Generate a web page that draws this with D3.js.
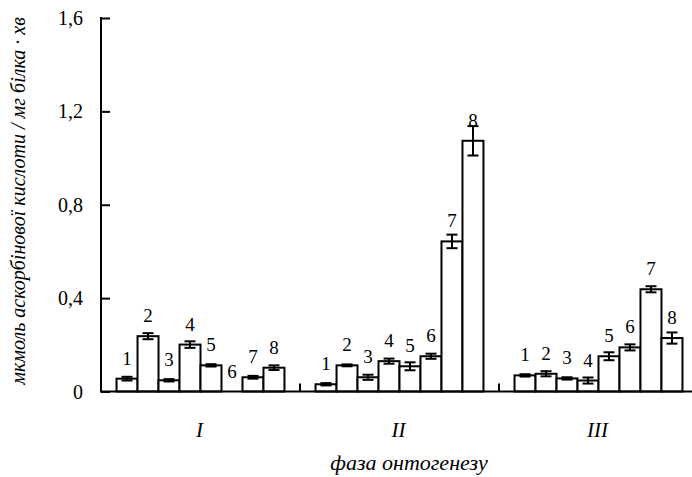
<!DOCTYPE html>
<html>
<head>
<meta charset="utf-8">
<script src="https://cdn.jsdelivr.net/npm/d3@7"></script>
<style>
  html, body { margin: 0; padding: 0; background: #fff; }
  svg { display: block; }
</style>
</head>
<body>
<svg id="chart" width="692" height="477" font-family="Liberation Serif"></svg>
<script>
const groups = ["I", "II", "III"];
const barLabels = ["1", "2", "3", "4", "5", "6", "7", "8"];
const valuesI   = [0.055, 0.237, 0.048, 0.201, 0.112, 0.000, 0.061, 0.102];
const errI      = [0.008, 0.013, 0.005, 0.014, 0.005, 0.000, 0.006, 0.010];
const valuesII  = [0.031, 0.112, 0.061, 0.130, 0.108, 0.151, 0.643, 1.074];
const errII     = [0.005, 0.004, 0.011, 0.011, 0.017, 0.011, 0.029, 0.063];
const valuesIII = [0.069, 0.076, 0.056, 0.047, 0.151, 0.189, 0.438, 0.229];
const errIII    = [0.005, 0.011, 0.005, 0.013, 0.017, 0.013, 0.013, 0.024];
const yTicks = [0, 0.4, 0.8, 1.2, 1.6];
const yTickLabels = ["0", "0,4", "0,8", "1,2", "1,6"];
const yTitle = "мкмоль аскорбінової кислоти / мг білка · хв";
const xTitle = "фаза онтогенезу";

(function () {
const seriesValues = [valuesI, valuesII, valuesIII];
const seriesErrors = [errI, errII, errIII];
const data = [];
groups.forEach((g, gi) => {
  barLabels.forEach((b, bi) => {
    data.push({ group: g, bar: b, value: seriesValues[gi][bi], err: seriesErrors[gi][bi] });
  });
});

const svg = d3.select("#chart");
const mLeft = 101, mRight = 698, mTop = 18, mBottom = 391.5;

const x0 = d3.scaleBand().domain(groups).range([mLeft, mRight]).paddingInner(0).paddingOuter(0);
const x1 = d3.scaleBand().domain(barLabels).range([0, x0.bandwidth()]).paddingOuter(0.74).paddingInner(0);
const y = d3.scaleLinear().domain([0, 1.6]).range([mBottom, mTop]);

const g = svg.append("g");
const bars = g.selectAll("g.bar").data(data).enter().append("g").attr("class", "bar")
  .attr("transform", d => `translate(${x0(d.group) + x1(d.bar)},0)`);

bars.filter(d => d.value > 0).append("rect")
  .attr("x", 0)
  .attr("y", d => y(d.value))
  .attr("width", x1.bandwidth())
  .attr("height", d => y(0) - y(d.value))
  .attr("fill", "#fff")
  .attr("stroke", "#000")
  .attr("stroke-width", 2);

const capW = 11;
const eb = bars.filter(d => d.err > 0);
const cx = x1.bandwidth() / 2;
eb.append("line")
  .attr("x1", cx).attr("x2", cx)
  .attr("y1", d => y(d.value - d.err)).attr("y2", d => y(d.value + d.err))
  .attr("stroke", "#000").attr("stroke-width", 2);
eb.append("line")
  .attr("x1", cx - capW / 2).attr("x2", cx + capW / 2)
  .attr("y1", d => y(d.value + d.err)).attr("y2", d => y(d.value + d.err))
  .attr("stroke", "#000").attr("stroke-width", 2);
eb.append("line")
  .attr("x1", cx - capW / 2).attr("x2", cx + capW / 2)
  .attr("y1", d => y(d.value - d.err)).attr("y2", d => y(d.value - d.err))
  .attr("stroke", "#000").attr("stroke-width", 2);

bars.append("text")
  .attr("x", cx)
  .attr("y", d => y(d.value) - 14)
  .attr("text-anchor", "middle")
  .attr("font-size", 19)
  .text(d => d.bar);

const yAxis = d3.axisRight(y).tickValues(yTicks).tickSize(9).tickFormat("");
const ya = svg.append("g").attr("transform", `translate(${mLeft},0)`).call(yAxis);
ya.select(".domain").remove();
ya.selectAll(".tick line").attr("stroke", "#000").attr("stroke-width", 2);
svg.append("line").attr("x1", mLeft).attr("x2", mLeft).attr("y1", y(1.6) - 1).attr("y2", mBottom + 1)
  .attr("stroke", "#000").attr("stroke-width", 2);
svg.selectAll("text.ytl").data(yTicks).enter().append("text").attr("class", "ytl")
  .attr("x", 83).attr("y", d => y(d) + 7)
  .attr("text-anchor", "end").attr("font-size", 20)
  .text((d, i) => yTickLabels[i]);

svg.append("line").attr("x1", mLeft).attr("x2", 692).attr("y1", mBottom).attr("y2", mBottom)
  .attr("stroke", "#000").attr("stroke-width", 2);
const bounds = groups.slice(1).map(gr => x0(gr));
svg.selectAll("line.xt").data(bounds).enter().append("line").attr("class", "xt")
  .attr("x1", d => d).attr("x2", d => d).attr("y1", mBottom).attr("y2", mBottom - 8)
  .attr("stroke", "#000").attr("stroke-width", 2);

svg.selectAll("text.xl").data(groups).enter().append("text").attr("class", "xl")
  .attr("x", d => x0(d) + x0.bandwidth() / 2 - 1).attr("y", 437)
  .attr("text-anchor", "middle").attr("font-size", 21).attr("font-style", "italic")
  .text(d => d);

svg.append("text").attr("x", 409).attr("y", 470)
  .attr("text-anchor", "middle").attr("font-size", 22).attr("font-style", "italic")
  .text(xTitle);

svg.append("text")
  .attr("transform", "translate(25,201) rotate(-90)")
  .attr("text-anchor", "middle").attr("font-size", 20).attr("font-style", "italic")
  .text(yTitle);
})();
</script>
</body>
</html>
